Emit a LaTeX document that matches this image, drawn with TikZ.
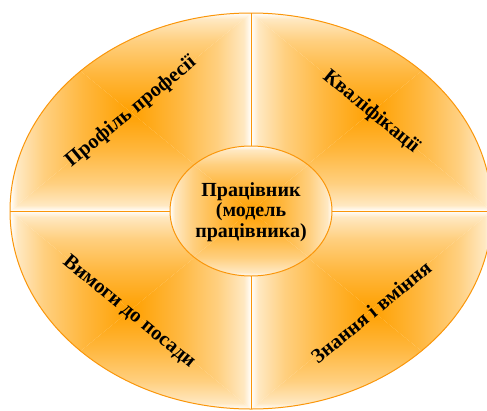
\documentclass[tikz,border=0pt]{standalone}
\usepackage{fontspec}
\setmainfont{Liberation Serif}
\usetikzlibrary{shapes.geometric}
\definecolor{glow}{RGB}{255,160,0}
\definecolor{rimline}{RGB}{250,150,10}

% white (bottom) fading into full glow (top); the path box spans 25bp..75bp
\pgfdeclareverticalshading{edgeglow}{100bp}{%
  color(0bp)=(white); color(25bp)=(white); color(28bp)=(glow!24!white);
  color(39bp)=(glow!50!white); color(55bp)=(glow!75!white);
  color(75bp)=(glow); color(100bp)=(glow)}

% rectangular (box-shaped) gradient: white on the box edges, glow at its centre
\newcommand\boxglow[4]{% #1 xmin, #2 ymin, #3 xmax, #4 ymax
  \coordinate (gc) at ({(#1+#3)/2},{(#2+#4)/2});
  \shade[shading=edgeglow,shading angle=180] (#1,#2) -- (#3,#2) -- (gc) -- cycle;
  \shade[shading=edgeglow,shading angle=0]   (#1,#4) -- (#3,#4) -- (gc) -- cycle;
  \shade[shading=edgeglow,shading angle=-90] (#1,#2) -- (#1,#4) -- (gc) -- cycle;
  \shade[shading=edgeglow,shading angle=90]  (#3,#2) -- (#3,#4) -- (gc) -- cycle;
}

\tikzset{
  outline/.style={draw=rimline,line width=1pt},
  sectorText/.style={font=\bfseries\fontsize{20.5}{21}\selectfont,text=black,align=center,inner sep=0pt},
  coreText/.style={font=\bfseries\fontsize{20}{20.5}\selectfont,text=black,align=center},
}

\begin{document}
\begin{tikzpicture}[x=1pt,y=-1pt]
\useasboundingbox (0,0) rectangle (487,410);
\clip (0,0) rectangle (487,410);

% four quadrant fills of the outer ellipse
\foreach \xa/\ya/\xb/\yb in {10/13/251/211, 251/13/492/211, 10/211/251/409, 251/211/492/409}{
  \begin{scope}
    \clip (251,211) ellipse [x radius=241, y radius=198];
    \clip (\xa,\ya) rectangle (\xb,\yb);
    \boxglow{\xa}{\ya}{\xb}{\yb}
  \end{scope}
}

% inner ellipse fill
\begin{scope}
  \clip (251,211) ellipse [x radius=81, y radius=65];
  \fill[white] (170,146) rectangle (332,276);
  \boxglow{170}{146}{332}{276}
\end{scope}

% outlines
\node[ellipse,outline,minimum width=482pt,minimum height=396pt,inner sep=0pt,outer sep=0pt] (rim) at (251,211) {};
\node[ellipse,outline,minimum width=162pt,minimum height=130pt,inner sep=0pt,outer sep=0pt] (core) at (251,211) {};
\node[coreText] (coretext) at (251,212) {Працівник\\(модель\\працівника)};

% dividing lines between the quadrants
\draw[outline] (rim.north) -- (core.north);
\draw[outline] (core.south) -- (rim.south);
\draw[outline] (rim.west) -- (core.west);
\draw[outline] (core.east) -- (rim.east);

% quadrant captions
\node[sectorText,rotate=39.4] (profile) at (131,112) {Профіль професії};
\node[sectorText,rotate=-39.4] (qualif) at (371,112) {Кваліфікації};
\node[sectorText,rotate=-39.4] (reqs) at (129,312) {Вимоги до посади};
\node[sectorText,rotate=39.4] (skills) at (371,312) {Знання і вміння};
\end{tikzpicture}
\end{document}
